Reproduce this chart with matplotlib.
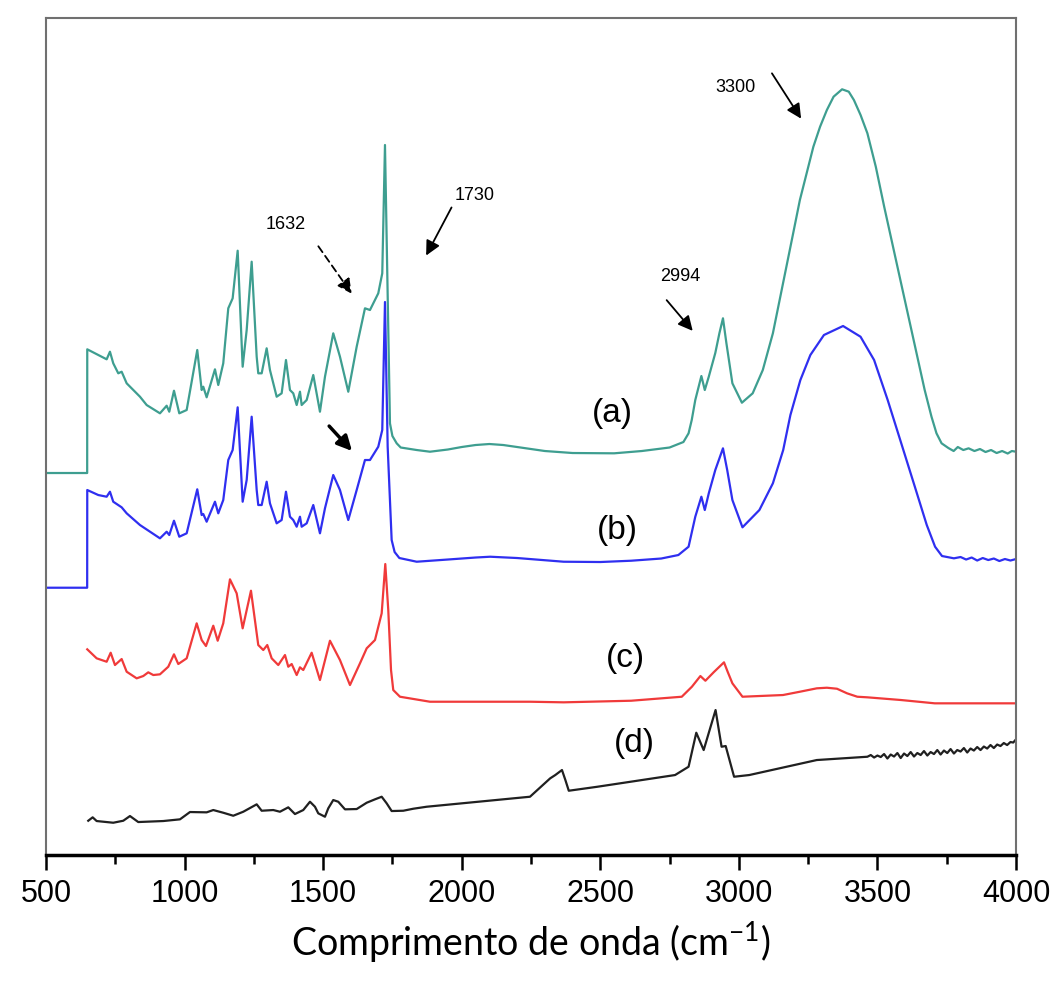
import matplotlib
matplotlib.use("Agg")
import matplotlib.pyplot as plt
from matplotlib.ticker import MultipleLocator

# FTIR spectra, offset vertically (arbitrary intensity units)
wn_a = [500, 648.7, 649, 688.7, 719, 730.9, 742.8, 760.9, 773.1, 791.2, 839.2, 863.3,
        911.3, 935.5, 944.9, 961.9, 981, 1007.7, 1045.9, 1061.8, 1067.6, 1079.8, 1109.8,
        1121.7, 1139.7, 1157.8, 1173.6, 1191.7, 1209.7, 1224.2, 1242.2, 1260.3, 1266,
        1278.3, 1296.3, 1308.2, 1332.4, 1350.4, 1366, 1380.4, 1392.3, 1404.6, 1416.5,
        1422.6, 1440.7, 1464.5, 1488.6, 1506.7, 1536.6, 1560.8, 1590.8, 1621.1, 1651,
        1669.1, 1699, 1713.4, 1723.2, 1732.9, 1741.2, 1750, 1765.4, 1780, 1837.6, 1885.5,
        1950, 2000, 2050, 2100, 2150, 2200, 2300, 2400, 2550, 2650, 2750, 2800, 2818.6,
        2830, 2842.8, 2864.8, 2877.1, 2891.5, 2915, 2930, 2942.7, 2955, 2976.7, 3011,
        3049.9, 3086.4, 3122.8, 3147.3, 3171.5, 3196, 3220.2, 3244.4, 3268.9, 3293.1,
        3317.6, 3341.8, 3372.5, 3396.6, 3415.1, 3439.2, 3463.8, 3494.1, 3524.4, 3555.1,
        3585.4, 3616.1, 3646.4, 3670.5, 3695.1, 3713.1, 3731.5, 3756, 3775, 3790, 3810,
        3829, 3850, 3870, 3890, 3910, 3930, 3950, 3970, 3985, 4000]
int_a = [382, 382, 505.7, 500, 495.7, 503.3, 491.7, 481.7, 483.3, 471.7, 458.3, 450,
         441.7, 449.3, 443.3, 464.3, 441.7, 445, 505, 465, 468.3, 457.7, 485.7,
         470, 491.7, 546.7, 556.7, 604.3, 488.3, 525, 593.3, 498.3, 481.7,
         481.7, 506.7, 485, 458.3, 461.7, 495, 465, 461.7, 450, 463.3,
         450, 455, 480, 443.3, 478.3, 521.7, 498.3, 463.3, 508.3, 546.7,
         545, 561.7, 581.7, 710, 558.3, 431.7, 419, 411.7, 407.5, 405, 403.3,
         405.5, 408, 410, 411, 410, 408, 404, 402, 401.7, 404, 407.5, 413, 421.7,
         435, 455, 479, 465, 478.3, 502, 522, 536.7, 512, 471.7, 452.3,
         461.7, 485, 521.7, 555, 588.3, 621.7, 655, 681.7, 708.3, 728.3,
         745, 758.3, 765.7, 763.3, 755, 740, 721.7, 688.3, 648.3, 610,
         571.7, 533.3, 495, 465, 438.3, 421.7, 411.7, 407, 404, 408, 405,
         406.7, 404, 406, 403, 405, 402, 404, 401.5, 404, 403.3]

wn_b = [500, 648.7, 649, 688.7, 719, 730.9, 742.8, 773.1, 791.2, 839.2, 911.3, 935.5,
        944.9, 961.9, 981, 1007.7, 1045.9, 1061.8, 1067.6, 1079.8, 1109.8, 1121.7,
        1139.7, 1157.8, 1173.6, 1191.7, 1209.7, 1224.2, 1242.2, 1260.3, 1266, 1278.3,
        1296.3, 1308.2, 1332.4, 1350.4, 1366, 1380.4, 1392.3, 1404.6, 1416.5, 1422.6,
        1440.7, 1464.5, 1488.6, 1506.7, 1536.6, 1560.8, 1590.8, 1621.1, 1651, 1669.1,
        1699, 1713.4, 1723.2, 1732.9, 1747.3, 1758, 1775, 1837.6, 1950, 2050, 2102.7,
        2200, 2368, 2500, 2611.5, 2720, 2781.8, 2818.6, 2842.8, 2864.8, 2877.1, 2891.5,
        2915, 2942.7, 2958, 2976.7, 3013.1, 3074.1, 3122.8, 3160, 3186, 3222, 3258,
        3307, 3376, 3439, 3488, 3537, 3586, 3635, 3678, 3708, 3733, 3776, 3800, 3820,
        3840, 3860, 3880, 3900, 3920, 3940, 3960, 3980, 4000]
int_b = [267.3, 267.3, 365, 360, 358.3, 363.3, 353.3, 347.7, 341.7, 330, 316.7, 323.3,
         320, 334.3, 318.3, 321.7, 365.7, 340, 341, 333.3, 353.3, 341.7,
         355, 395, 405, 447.7, 353.3, 375, 438.3, 365, 350, 350,
         373.3, 351.7, 331.7, 335, 363.3, 338.3, 335, 328.3, 338.3, 328.3,
         331.7, 350, 321.7, 346.7, 380, 365, 335, 365, 395, 395,
         408.3, 425, 553, 408.3, 315, 303, 297, 293.3, 295.5, 297.5, 298.3,
         297, 293.3, 293, 294.3, 296.5, 300, 308.3, 338.3, 358.3, 345, 361.7,
         385, 406.7, 385, 355, 327.7, 345, 371.7, 405, 440, 475, 500,
         520, 529, 518.3, 495, 455, 411.7, 368.3, 330, 308.3, 299, 296.7, 298, 295.5,
         297.5, 294.5, 297, 295, 296.5, 294, 296, 294.5, 296]

wn_c = [649, 682.9, 719, 733.5, 749, 773.1, 791.2, 827.3, 851.1, 869.1, 887.2, 911.3,
        941.3, 961.9, 977.4, 1007.7, 1043.8, 1061.8, 1077.3, 1103.7, 1119.6, 1139.7,
        1163.9, 1188.1, 1209.7, 1239.7, 1266, 1284.1, 1298.5, 1314.4, 1338.2, 1362.4,
        1374.3, 1386.6, 1404.6, 1416.5, 1428.4, 1458.7, 1488.6, 1524.7, 1560.8, 1596.9,
        1633, 1657.2, 1687.1, 1711.3, 1724.3, 1735.1, 1745, 1753.1, 1777.3, 1885.5, 2246.4,
        2368, 2611.5, 2794.1, 2830.6, 2861.2, 2879.3, 2910, 2946.4, 2960, 2976.7, 3013.1,
        3159.3, 3220.2, 3281.2, 3317.6, 3354, 3390.5, 3427.4, 3463.8, 3585.4, 3707, 4000]
int_c = [205.7, 196.7, 193.3, 202.3, 190, 196, 183.3, 176.7, 179, 182.7, 180, 180.7,
         188.3, 200.7, 191, 196.7, 231.7, 215, 209, 229.3, 214.3, 231.7,
         275.7, 261.7, 226.7, 264.3, 210, 205, 210, 196.7, 190, 200,
         188.3, 191, 180, 187.7, 185, 202.3, 175, 214.3, 195, 170,
         191.7, 206.7, 215, 241.7, 291, 245, 185, 165, 158.3, 153.3, 153.3,
         152.7, 154.3, 158.3, 168.3, 179, 174.3, 183, 192.7, 183, 171.7, 158.3,
         160, 163.3, 166.7, 167.3, 166.3, 161.7, 158.3, 157.7, 155, 151.7, 151.7]

wn_d = [652.6, 668.5, 682.9, 742.8, 778.9, 803.1, 833, 923.2, 983.5, 1019.6, 1079.8,
        1103.7, 1139.7, 1175.8, 1211.9, 1260.3, 1278.3, 1320.2, 1344.3, 1374.3, 1398.4,
        1428.4, 1452.6, 1470.6, 1482.5, 1506.7, 1518.6, 1536.6, 1554.7, 1578.9, 1621.1,
        1657.2, 1687.1, 1711.3, 1729.3, 1747.3, 1789.2, 1825.3, 1873.6, 2246.4, 2319.3,
        2337.7, 2361.8, 2374.1, 2386.4, 2489.9, 2769.9, 2818.6, 2846.4, 2873.1, 2916,
        2937.7, 2952.5, 2982.8, 3037.6, 3281.2, 3463.8,
        3476, 3488, 3500, 3512, 3524, 3536, 3548, 3560, 3572, 3584, 3596, 3608,
        3620, 3632, 3644, 3656, 3668, 3680, 3692, 3704, 3716, 3728, 3740, 3752,
        3764, 3776, 3788, 3800, 3812, 3824, 3836, 3848, 3860, 3872, 3884, 3896,
        3908, 3920, 3932, 3944, 3956, 3968, 3980, 3990, 4000]
int_d = [34.3, 37.7, 34, 32.3, 34.3, 39, 33, 34, 35.7, 43, 42.7,
         45, 42.3, 39.3, 43.3, 50.7, 44.3, 45, 43.3, 47.7, 41,
         45, 53.3, 48.3, 41.7, 38.3, 46.7, 55, 53.3, 45.7, 46,
         52.3, 55.7, 58.3, 51.7, 44, 44.3, 46.3, 48.3, 58.3, 76.7,
         80, 85, 75, 64.3, 68.3, 80, 88.3, 122.3, 105, 145,
         108.3, 109, 78.3, 80, 95, 98.3,
         100, 97.5, 99.5, 98, 101, 96.5, 100.5, 98.5, 102, 97, 101.5, 99,
         103, 98.5, 102, 100, 104, 99.5, 103, 101, 105, 100.5, 104.5, 102,
         106, 101.5, 105, 103.5, 107, 102.5, 106.5, 104.5, 108, 105, 108.5, 106.5,
         110, 107, 110.5, 109, 112, 110, 113, 112.5, 115.7]

colors = ["#3e9e90", "#2f2ff0", "#f03a3a", "#202020"]
curve_labels = ["(a)", "(b)", "(c)", "(d)"]
label_pos = [(2545, 442), (2560, 325), (2591, 197), (2622, 112)]

fig = plt.figure(figsize=(10.59, 9.94), dpi=100)
ax = fig.add_axes([0.0434, 0.1398, 0.916, 0.8421])

series = [(wn_a, int_a), (wn_b, int_b), (wn_c, int_c), (wn_d, int_d)]
for (x, y), c in zip(series, colors):
    ax.plot(x, y, color=c, lw=1.6)

for lab, (x, y) in zip(curve_labels, label_pos):
    ax.text(x, y, lab, fontsize=24, family="Liberation Sans",
            ha="center", va="center")

# peak annotations
ann = dict(fontsize=13, family="Liberation Sans", ha="center", va="center")
ax.text(1364, 631, "1632", **ann)
ax.text(2048, 660, "1730", **ann)
ax.text(2790, 579, "2994", **ann)
ax.text(2986, 767, "3300", **ann)

arrow = dict(arrowstyle="-|>", color="black", lw=1.3, mutation_scale=22)
ax.annotate("", xy=(1609, 559), xytext=(1477, 611),
            arrowprops=dict(arrow, linestyle=(0, (4, 2.5))))
ax.annotate("", xy=(1867, 597), xytext=(1968, 650), arrowprops=arrow)
ax.annotate("", xy=(1611, 402), xytext=(1515, 431),
            arrowprops=dict(arrow, lw=2.5))
ax.annotate("", xy=(2840, 522), xytext=(2733, 557), arrowprops=arrow)
ax.annotate("", xy=(3230, 734), xytext=(3114, 784), arrowprops=arrow)

ax.set_xlim(500, 4000)
ax.set_ylim(0, 837)
ax.set_yticks([])
ax.xaxis.set_major_locator(MultipleLocator(500))
ax.xaxis.set_minor_locator(MultipleLocator(250))
ax.tick_params(axis="x", which="major", direction="out", length=11, width=1.8,
               labelsize=22, pad=6)
ax.tick_params(axis="x", which="minor", direction="out", length=6.5, width=1.8)
for lab in ax.get_xticklabels():
    lab.set_family("Liberation Sans")

for side in ["left", "top", "right"]:
    ax.spines[side].set_color("#707070")
    ax.spines[side].set_linewidth(1.5)
ax.spines["bottom"].set_linewidth(2.5)
ax.spines["bottom"].set_color("black")

plt.rcParams["mathtext.fontset"] = "custom"
plt.rcParams["mathtext.rm"] = "Lato"
ax.set_xlabel("Comprimento de onda (cm$^{\\mathregular{-1}}$)", fontsize=27,
              family="Lato", labelpad=8)

fig.savefig("out.png", dpi=100)
